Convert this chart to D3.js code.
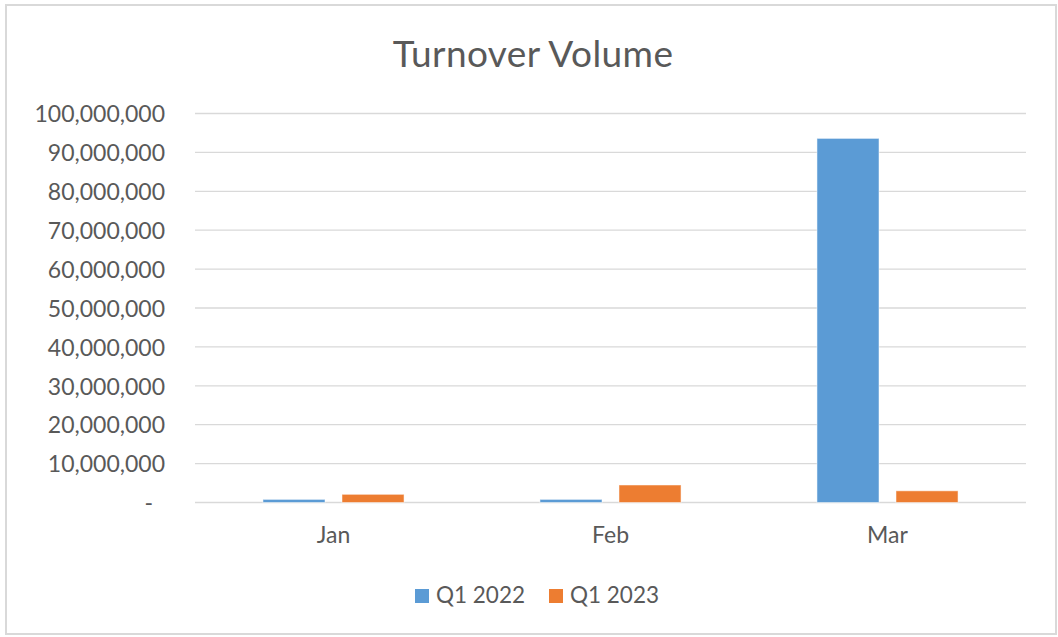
<!DOCTYPE html>
<html>
<head>
<meta charset="utf-8">
<script src="https://cdn.jsdelivr.net/npm/d3@7"></script>
<style>
  html, body { margin: 0; padding: 0; background: #fff; }
  svg { display: block; }
  text { font-family: Lato, "Open Sans", sans-serif; fill: #595959; }
</style>
</head>
<body>
<svg id="chart" width="1058" height="637"></svg>
<script>
const title = "Turnover Volume";
const categories = ["Jan", "Feb", "Mar"];
const seriesNames = ["Q1 2022", "Q1 2023"];
const q1_2022 = [800000, 800000, 93600000];
const q1_2023 = [2100000, 4500000, 3000000];
const yTicks = [0, 10000000, 20000000, 30000000, 40000000, 50000000, 60000000, 70000000, 80000000, 90000000, 100000000];
const colors = ["#5B9BD5", "#ED7D31"];

const svg = d3.select("#chart");
const plot = { left: 195, right: 1026, top: 113.5, bottom: 502.5 };

// chart border
svg.append("rect")
  .attr("x", 6).attr("y", 5).attr("width", 1050).attr("height", 629)
  .attr("fill", "#fff").attr("stroke", "#d9d9d9").attr("stroke-width", 2);

// title
svg.append("text")
  .attr("x", 533).attr("y", 67)
  .attr("text-anchor", "middle")
  .style("font-size", "37px")
  .style("letter-spacing", "0.4px")
  .text(title);

const x0 = d3.scaleBand().domain(categories).range([plot.left, plot.right]).padding(0);
const x1 = d3.scaleBand().domain(seriesNames).range([0, x0.bandwidth()])
  .paddingInner(0.215).paddingOuter(0.86);
const y = d3.scaleLinear().domain([0, 100000000]).range([plot.bottom, plot.top]);

// gridlines
svg.append("g").selectAll("line").data(yTicks).join("line")
  .attr("x1", plot.left).attr("x2", plot.right)
  .attr("y1", d => y(d)).attr("y2", d => y(d))
  .attr("stroke", "#d9d9d9").attr("stroke-width", 1.3);

// y axis labels
const fmt = d3.format(",");
const yAxis = d3.axisLeft(y).tickValues(yTicks).tickSize(0).tickPadding(0)
  .tickFormat(d => d === 0 ? "-" : fmt(d));
const gy = svg.append("g").attr("transform", `translate(165,0)`).call(yAxis);
gy.select(".domain").remove();
gy.selectAll("text")
  .style("font-size", "23px")
  .style("font-family", "Lato, 'Open Sans', sans-serif")
  .attr("fill", "#595959")
  .attr("dy", "0.36em")
  .attr("x", d => d === 0 ? -12 : 0);

// bars
const seriesData = [q1_2022, q1_2023];
const groups = svg.append("g").selectAll("g").data(categories).join("g")
  .attr("transform", d => `translate(${x0(d)},0)`);
groups.selectAll("rect")
  .data((c, i) => seriesNames.map((s, j) => ({ s, v: seriesData[j][i], j })))
  .join("rect")
  .attr("x", d => x1(d.s))
  .attr("width", x1.bandwidth())
  .attr("y", d => y(d.v))
  .attr("height", d => y(0) - y(d.v))
  .attr("fill", d => colors[d.j])
  .attr("stroke", "#fff").attr("stroke-opacity", 0.5).attr("stroke-width", 1);

// x axis labels
const xAxis = d3.axisBottom(x0).tickSize(0).tickPadding(0);
const gx = svg.append("g").attr("transform", `translate(0,${543})`).call(xAxis);
gx.select(".domain").remove();
gx.selectAll("text")
  .style("font-size", "23px")
  .style("font-family", "Lato, 'Open Sans', sans-serif")
  .attr("fill", "#595959")
  .attr("dy", 0).attr("y", 0);

// legend
const legendX = [415, 549];
const lg = svg.append("g").selectAll("g").data(seriesNames).join("g")
  .attr("transform", (d, i) => `translate(${legendX[i]},589)`);
lg.append("rect").attr("width", 14).attr("height", 14).attr("fill", (d, i) => colors[i]);
lg.append("text").attr("x", 21).attr("y", 14)
  .style("font-size", "22.5px")
  .text(d => d);
</script>
</body>
</html>
